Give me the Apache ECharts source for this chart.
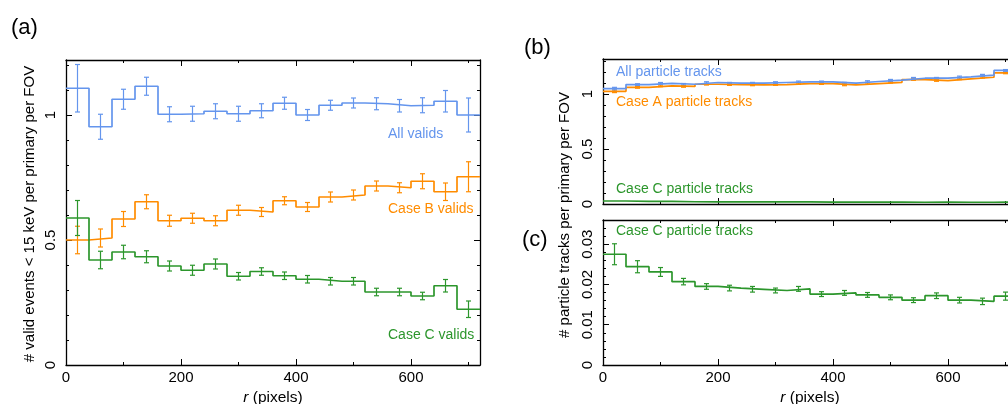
<!DOCTYPE html>
<html>
<head>
<meta charset="utf-8">
<script src="https://cdn.jsdelivr.net/npm/echarts@6/dist/echarts.min.js"></script>
<style>
  html, body { margin: 0; padding: 0; background: #fff; }
  #chart { width: 1008px; height: 404px; }
</style>
</head>
<body>
<div id="chart"></div>
<script>
// bin edges in r (pixels), 40 px wide bins
const binEdges = [0, 40, 80, 120, 160, 200, 240, 280, 320, 360, 400, 440, 480, 520, 560, 600, 640, 680, 720]

// panel (a): valid events < 15 keV
const aAll = [1.107, 0.953, 1.063, 1.115, 1.003, 1.005, 1.015, 1.005, 1.017, 1.047, 1.0, 1.039, 1.048, 1.045, 1.037, 1.039, 1.055, 1.0]
const aAllErr = [0.095, 0.05, 0.04, 0.036, 0.03, 0.03, 0.03, 0.03, 0.028, 0.024, 0.022, 0.02, 0.02, 0.024, 0.025, 0.03, 0.043, 0.068]
const aCaseB = [0.5, 0.508, 0.584, 0.653, 0.577, 0.587, 0.577, 0.619, 0.612, 0.657, 0.632, 0.672, 0.68, 0.716, 0.709, 0.735, 0.693, 0.753]
const aCaseBErr = [0.055, 0.036, 0.03, 0.028, 0.022, 0.02, 0.02, 0.02, 0.018, 0.016, 0.018, 0.02, 0.02, 0.02, 0.02, 0.03, 0.035, 0.06]
const aCaseC = [0.588, 0.42, 0.452, 0.433, 0.396, 0.379, 0.404, 0.355, 0.374, 0.357, 0.343, 0.335, 0.335, 0.292, 0.292, 0.276, 0.317, 0.223]
const aCaseCErr = [0.07, 0.035, 0.027, 0.024, 0.02, 0.02, 0.02, 0.015, 0.015, 0.015, 0.015, 0.015, 0.015, 0.015, 0.015, 0.015, 0.025, 0.033]

// panel (b): particle tracks
const bAll = [1.05, 1.087, 1.099, 1.09, 1.106, 1.1, 1.1, 1.106, 1.112, 1.112, 1.1, 1.115, 1.127, 1.145, 1.145, 1.157, 1.173, 1.216]
const bAllErr = [0.012, 0.008, 0.007, 0.007, 0.007, 0.007, 0.007, 0.007, 0.007, 0.007, 0.007, 0.007, 0.007, 0.007, 0.007, 0.007, 0.007, 0.008]
const bCaseA = [1.026, 1.062, 1.075, 1.07, 1.09, 1.087, 1.084, 1.087, 1.096, 1.096, 1.084, 1.096, 1.108, 1.133, 1.124, 1.139, 1.154, 1.194]
const bCaseAErr = [0.012, 0.008, 0.007, 0.007, 0.007, 0.007, 0.007, 0.007, 0.007, 0.007, 0.007, 0.007, 0.007, 0.007, 0.007, 0.007, 0.007, 0.008]

// panel (b) green line and panel (c): case C particle tracks
const cCaseC = [0.0275, 0.0244, 0.0231, 0.0207, 0.0195, 0.0191, 0.0188, 0.0185, 0.0189, 0.0176, 0.0179, 0.0174, 0.0168, 0.0161, 0.0172, 0.0161, 0.0158, 0.0171]
const cCaseCErr = [0.0026, 0.0015, 0.0011, 0.0008, 0.0007, 0.0007, 0.0007, 0.0006, 0.0006, 0.0006, 0.0006, 0.0006, 0.0006, 0.0006, 0.0007, 0.0007, 0.0008, 0.001]

// ticks
const xMajor = [0, 200, 400, 600]
const xMinor = [100, 300, 500, 700]
const abMajor = [0, 0.5, 1]
const aMinor = [0.1, 0.2, 0.3, 0.4, 0.6, 0.7, 0.8, 0.9, 1.1, 1.2]
const bMinor = [0.1, 0.2, 0.3, 0.4, 0.6, 0.7, 0.8, 0.9, 1.1, 1.2, 1.3]
const cMajor = [0, 0.01, 0.02, 0.03]
const cMinor = [0.002, 0.004, 0.006, 0.008, 0.012, 0.014, 0.016, 0.018, 0.022, 0.024, 0.026, 0.028, 0.032, 0.034]

const BLUE = '#6495ed'
const ORANGE = '#ff8c00'
const GREEN = '#2c962c'
const FONT = '"Liberation Sans", Arial, sans-serif'

// 4 axes per side pair: main (labels), minor ticks, mirror main, mirror minor
function frameAxes (dim, grid, min, max, majors, minors, labelled, extra) {
  const sides = dim === 'x' ? ['bottom', 'top'] : ['left', 'right']
  const out = []
  sides.forEach((pos, s) => {
    [majors, minors].forEach((vals, k) => {
      const ax = {
        type: 'value',
        gridIndex: grid,
        position: pos,
        min: min,
        max: max,
        axisLine: { show: k === 0, onZero: false, lineStyle: { color: '#000', width: 1.3 } },
        axisTick: { show: true, inside: true, length: k === 0 ? 6 : 3, customValues: vals, lineStyle: { color: '#000', width: 1 } },
        axisLabel: {
          show: labelled && s === 0 && k === 0,
          customValues: majors,
          color: '#000',
          fontFamily: FONT,
          fontSize: 15,
          margin: dim === 'x' ? 5 : 8,
          rotate: dim === 'y' ? 90 : 0
        },
        splitLine: { show: false }
      }
      if (s === 0 && k === 0 && extra) Object.assign(ax, extra)
      out.push(ax)
    })
  })
  return out
}

const rName = {
  name: '{i|r} (pixels)',
  nameLocation: 'middle',
  nameGap: 25,
  nameTextStyle: {
    color: '#000',
    fontFamily: FONT,
    fontSize: 15.5,
    rich: { i: { fontStyle: 'italic', fontFamily: FONT, fontSize: 15.5, color: '#000' } }
  }
}

function stepSeries (vals, color, panel) {
  const data = vals.map((v, i) => [binEdges[i], v])
  data.push([binEdges[vals.length], vals[vals.length - 1]])
  return {
    type: 'line',
    step: 'end',
    xAxisIndex: panel * 4,
    yAxisIndex: panel * 4,
    data: data,
    showSymbol: false,
    symbol: 'none',
    silent: true,
    lineStyle: { color: color, width: 1.7 }
  }
}

function errSeries (vals, errs, color, panel) {
  return {
    type: 'custom',
    xAxisIndex: panel * 4,
    yAxisIndex: panel * 4,
    silent: true,
    itemStyle: { color: color },
    encode: { x: 0, y: 1 },
    data: vals.map((v, i) => [(binEdges[i] + binEdges[i + 1]) / 2, v, errs[i]]),
    renderItem (params, api) {
      const x = api.value(0)
      const y = api.value(1)
      const e = api.value(2)
      const top = api.coord([x, y + e])
      const bot = api.coord([x, y - e])
      const w = 2.5
      const st = { stroke: color, lineWidth: 1.2 }
      return {
        type: 'group',
        children: [
          { type: 'line', shape: { x1: top[0], y1: top[1], x2: bot[0], y2: bot[1] }, style: st },
          { type: 'line', shape: { x1: top[0] - w, y1: top[1], x2: top[0] + w, y2: top[1] }, style: st },
          { type: 'line', shape: { x1: bot[0] - w, y1: bot[1], x2: bot[0] + w, y2: bot[1] }, style: st }
        ]
      }
    }
  }
}

function label (text, x, y, color, size) {
  return {
    type: 'text',
    x: x,
    y: y,
    silent: true,
    style: { text: text, fill: color, font: size + 'px ' + FONT, align: 'left', verticalAlign: 'middle' }
  }
}

function vlabel (text, x, y) {
  return {
    type: 'text',
    x: x,
    y: y,
    rotation: Math.PI / 2,
    silent: true,
    style: { text: text, fill: '#000', font: '15px ' + FONT, align: 'center', verticalAlign: 'middle' }
  }
}

const chart = echarts.init(document.getElementById('chart'))
chart.setOption({
  animation: false,
  backgroundColor: '#ffffff',
  grid: [
    { left: 66, top: 60, width: 414, height: 305, outerBoundsMode: 'none' },
    { left: 603, top: 59, width: 414, height: 145, outerBoundsMode: 'none' },
    { left: 603, top: 220, width: 414, height: 145, outerBoundsMode: 'none' }
  ],
  xAxis: [].concat(
    frameAxes('x', 0, 0, 720, xMajor, xMinor, true, rName),
    frameAxes('x', 1, 0, 720, xMajor, xMinor, false),
    frameAxes('x', 2, 0, 720, xMajor, xMinor, true, rName)
  ),
  yAxis: [].concat(
    frameAxes('y', 0, 0, 1.22, abMajor, aMinor, true),
    frameAxes('y', 1, 0, 1.32, abMajor, bMinor, true),
    frameAxes('y', 2, 0, 0.036, cMajor, cMinor, true)
  ),
  series: [
    stepSeries(aCaseB, ORANGE, 0),
    errSeries(aCaseB, aCaseBErr, ORANGE, 0),
    stepSeries(aCaseC, GREEN, 0),
    errSeries(aCaseC, aCaseCErr, GREEN, 0),
    stepSeries(aAll, BLUE, 0),
    errSeries(aAll, aAllErr, BLUE, 0),

    stepSeries(bCaseA, ORANGE, 1),
    errSeries(bCaseA, bCaseAErr, ORANGE, 1),
    stepSeries(bAll, BLUE, 1),
    errSeries(bAll, bAllErr, BLUE, 1),
    stepSeries(cCaseC, GREEN, 1),

    stepSeries(cCaseC, GREEN, 2),
    errSeries(cCaseC, cCaseCErr, GREEN, 2)
  ],
  graphic: [
    label('(a)', 11, 28, '#000', 22),
    label('(b)', 524, 48, '#000', 22),
    label('(c)', 522, 240, '#000', 22),
    vlabel('# valid events < 15 keV per primary per FOV', 30, 214),
    vlabel('# particle tracks per primary per FOV', 565, 215),
    label('All valids', 388, 134, BLUE, 14),
    label('Case B valids', 388, 209, ORANGE, 14),
    label('Case C valids', 388, 335, GREEN, 14),
    label('All particle tracks', 616, 72, BLUE, 14),
    label('Case A particle tracks', 616, 102, ORANGE, 14),
    label('Case C particle tracks', 616, 189, GREEN, 14),
    label('Case C particle tracks', 616, 231, GREEN, 14)
  ]
})
</script>
</body>
</html>
